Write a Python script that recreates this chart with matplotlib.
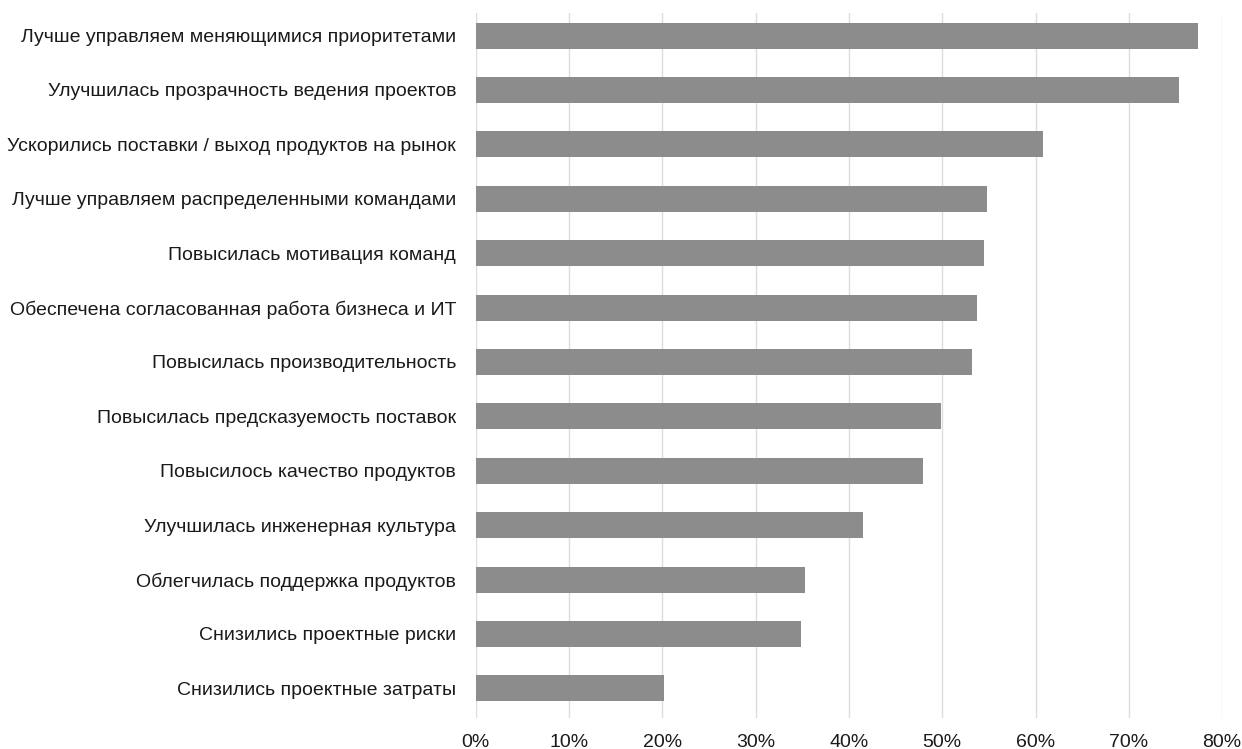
import matplotlib
matplotlib.use("Agg")
import matplotlib.pyplot as plt
from matplotlib.ticker import FuncFormatter

categories = [
    "Лучше управляем меняющимися приоритетами",
    "Улучшилась прозрачность ведения проектов",
    "Ускорились поставки / выход продуктов на рынок",
    "Лучше управляем распределенными командами",
    "Повысилась мотивация команд",
    "Обеспечена согласованная работа бизнеса и ИТ",
    "Повысилась производительность",
    "Повысилась предсказуемость поставок",
    "Повысилось качество продуктов",
    "Улучшилась инженерная культура",
    "Облегчилась поддержка продуктов",
    "Снизились проектные риски",
    "Снизились проектные затраты",
]
values = [77.4, 75.4, 60.8, 54.8, 54.5, 53.7, 53.2, 49.9, 47.9, 41.5, 35.3, 34.9, 20.2]
xticks = [0, 10, 20, 30, 40, 50, 60, 70, 80]

plt.rcParams['font.family'] = ['Liberation Sans', 'DejaVu Sans']

fig = plt.figure(figsize=(12.42, 7.49), dpi=100)
ax = fig.add_axes([0.383, 0.041, 0.601, 0.942])

ypos = list(range(len(categories)))
ax.barh(ypos, values, height=0.48, color="#8c8c8c", zorder=3)
ax.set_yticks(ypos)
ax.set_yticklabels(categories, fontsize=14, color="#1a1a1a")
ax.set_ylim(len(categories) - 0.45, -0.42)
ax.set_xlim(0, 80)
ax.set_xticks(xticks)
ax.xaxis.set_major_formatter(FuncFormatter(lambda v, p: f"{int(v)}%"))
ax.tick_params(axis='x', labelsize=14, colors="#1a1a1a", length=0, pad=11)
ax.tick_params(axis='y', length=0, pad=14)
ax.grid(axis='x', color="#dcdcdc", linewidth=1, zorder=0)
for s in ax.spines.values():
    s.set_visible(False)

fig.savefig("out.png", dpi=100)
